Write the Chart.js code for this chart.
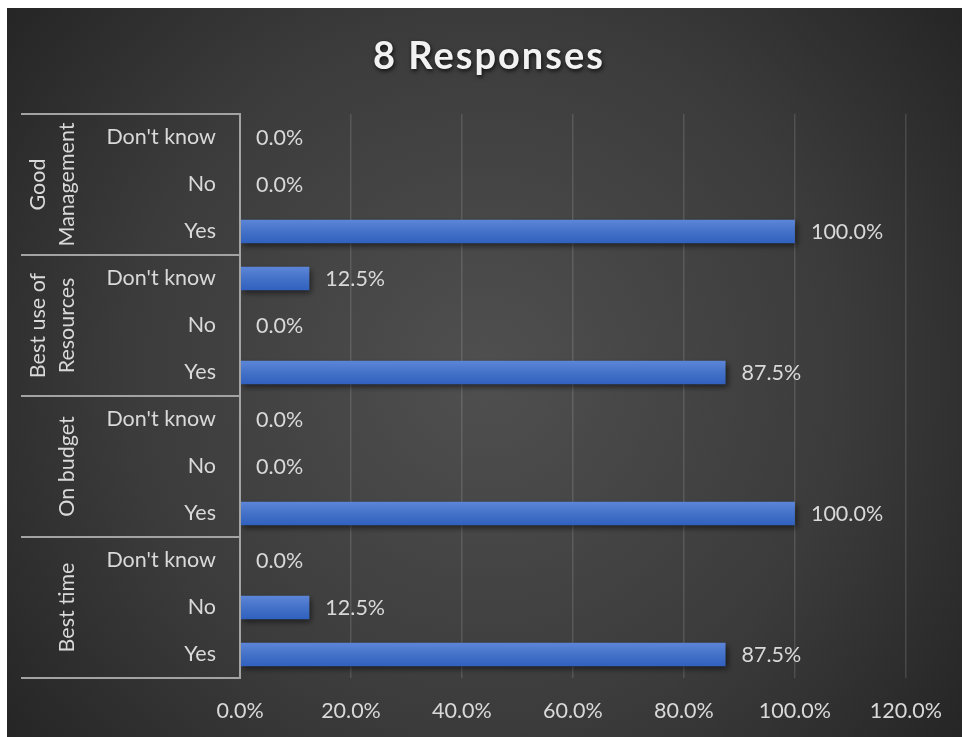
<!DOCTYPE html>
<html lang="en">
<head>
    <meta charset="UTF-8">
    <title>8 Responses</title>
    <style>
        html, body {
            margin: 0;
            padding: 0;
            background: #ffffff;
            overflow: hidden;
        }
        #wrap {
            position: absolute;
            left: 7px;
            top: 8px;
            width: 955px;
            height: 729px;
        }
    </style>
</head>
<body>
    <div id="wrap">
        <canvas id="responsesChart" width="955" height="729"></canvas>
    </div>

    <script src="https://cdn.jsdelivr.net/npm/chart.js@4.4.3/dist/chart.umd.min.js"></script>
    <script>
        // data
        const titleText = '8 Responses';
        const rowLabels = ["Don't know", 'No', 'Yes',
                           "Don't know", 'No', 'Yes',
                           "Don't know", 'No', 'Yes',
                           "Don't know", 'No', 'Yes'];
        const groupLines = [['Good', 'Management'], ['Best use of', 'Resources'], ['On budget'], ['Best time']];
        const shares = [0, 0, 1.0,
                        0.125, 0, 0.875,
                        0, 0, 1.0,
                        0, 0.125, 0.875];
        const xMin = 0, xMax = 1.2, xStep = 0.2;

        const FONT = 'Lato, Carlito, "Noto Sans", sans-serif';
        const FSIZE = 21.5;
        const TEXT = '#d9d9d9';
        const LINE = '#a3a3a3';

        const pct = v => (v * 100).toFixed(1) + '%';

        // dark radial background
        const backdrop = {
            id: 'backdrop',
            beforeDraw(chart) {
                const { ctx, width, height } = chart;
                const g = ctx.createRadialGradient(width * 0.5, height * 0.5, 10, width * 0.5, height * 0.5, width * 0.62);
                g.addColorStop(0, '#4f4f4f');
                g.addColorStop(0.6, '#3b3b3b');
                g.addColorStop(1, '#262626');
                ctx.save();
                ctx.fillStyle = g;
                ctx.fillRect(0, 0, width, height);
                ctx.restore();
            }
        };

        // title with shadow
        const titlePlugin = {
            id: 'titlePlugin',
            afterDraw(chart) {
                const { ctx } = chart;
                ctx.save();
                ctx.font = 'bold 38px ' + FONT;
                ctx.letterSpacing = '2px';
                ctx.textAlign = 'center';
                ctx.textBaseline = 'middle';
                ctx.shadowColor = 'rgba(0,0,0,0.8)';
                ctx.shadowBlur = 4;
                ctx.shadowOffsetX = 1;
                ctx.shadowOffsetY = 2;
                ctx.fillStyle = '#f2f2f2';
                ctx.fillText(titleText, 482, 49);
                ctx.restore();
            }
        };

        // grouped category axis: boxes + rotated group names
        const groupAxis = {
            id: 'groupAxis',
            afterDraw(chart) {
                const { ctx, chartArea } = chart;
                const y = chart.scales.y;
                const left = 14;
                ctx.save();
                ctx.strokeStyle = LINE;
                ctx.lineWidth = 2;
                const edges = [chartArea.top];
                for (let g = 1; g < groupLines.length; g++) {
                    edges.push((y.getPixelForValue(g * 3 - 1) + y.getPixelForValue(g * 3)) / 2);
                }
                edges.push(chartArea.bottom);
                ctx.beginPath();
                edges.forEach(e => {
                    ctx.moveTo(left, e);
                    ctx.lineTo(chartArea.left, e);
                });
                ctx.moveTo(chartArea.left, chartArea.top - 1);
                ctx.lineTo(chartArea.left, chartArea.bottom + 1);
                ctx.stroke();

                ctx.fillStyle = TEXT;
                ctx.font = FSIZE + 'px ' + FONT;
                ctx.textAlign = 'center';
                ctx.textBaseline = 'middle';
                groupLines.forEach((lines, g) => {
                    const cy = (y.getPixelForValue(g * 3) + y.getPixelForValue(g * 3 + 2)) / 2;
                    lines.forEach((txt, i) => {
                        const cx = 60 - (lines.length - 1 - i) * 29;
                        ctx.save();
                        ctx.translate(cx, cy);
                        ctx.rotate(-Math.PI / 2);
                        ctx.fillText(txt, 0, 0);
                        ctx.restore();
                    });
                });
                ctx.restore();
            }
        };

        // value labels to the right of bars
        const valueLabels = {
            id: 'valueLabels',
            afterDatasetsDraw(chart) {
                const { ctx } = chart;
                const meta = chart.getDatasetMeta(0);
                ctx.save();
                ctx.fillStyle = TEXT;
                ctx.font = FSIZE + 'px ' + FONT;
                ctx.textAlign = 'left';
                ctx.textBaseline = 'middle';
                meta.data.forEach((bar, i) => {
                    ctx.fillText(pct(shares[i]), bar.x + 16, bar.y + 1);
                });
                ctx.restore();
            }
        };

        // soft drop shadow under bars
        const barShadow = {
            id: 'barShadow',
            beforeDatasetsDraw(chart) {
                const ctx = chart.ctx;
                ctx.save();
                ctx.shadowColor = 'rgba(0,0,0,0.55)';
                ctx.shadowBlur = 6;
                ctx.shadowOffsetX = 2;
                ctx.shadowOffsetY = 3;
            },
            afterDatasetsDraw(chart) {
                chart.ctx.restore();
            }
        };

        const barFill = context => {
            const chart = context.chart;
            if (!chart.chartArea) return '#4472c4';
            const cy = chart.scales.y.getPixelForValue(context.dataIndex);
            const g = chart.ctx.createLinearGradient(0, cy - 12, 0, cy + 12);
            g.addColorStop(0, '#5d86d8');
            g.addColorStop(0.5, '#4472c8');
            g.addColorStop(1, '#3060bf');
            return g;
        };

        const ctx = document.getElementById('responsesChart').getContext('2d');
        const chart = new Chart(ctx, {
            type: 'bar',
            data: {
                labels: rowLabels,
                datasets: [{
                    data: shares,
                    backgroundColor: barFill,
                    borderWidth: 0,
                    categoryPercentage: 1.0,
                    barPercentage: 0.5
                }]
            },
            options: {
                indexAxis: 'y',
                responsive: false,
                animation: false,
                devicePixelRatio: 1,
                layout: {
                    padding: { top: 106, right: 56, bottom: 15, left: 0 }
                },
                scales: {
                    x: {
                        min: xMin,
                        max: xMax,
                        ticks: {
                            stepSize: xStep,
                            color: TEXT,
                            font: { family: FONT, size: FSIZE },
                            padding: 20,
                            callback: v => pct(v)
                        },
                        grid: {
                            color: 'rgba(255,255,255,0.13)',
                            lineWidth: 1.5,
                            drawTicks: false
                        },
                        border: { display: false },
                        afterFit(scale) { scale.height = 44; }
                    },
                    y: {
                        ticks: {
                            color: TEXT,
                            font: { family: FONT, size: FSIZE },
                            padding: 24,
                            autoSkip: false
                        },
                        grid: { display: false, drawTicks: false },
                        border: { display: false },
                        afterFit(scale) { scale.width = 233; }
                    }
                },
                plugins: {
                    legend: { display: false },
                    tooltip: { enabled: false }
                }
            },
            plugins: [backdrop, barShadow, valueLabels, groupAxis, titlePlugin]
        });
    </script>
</body>
</html>
